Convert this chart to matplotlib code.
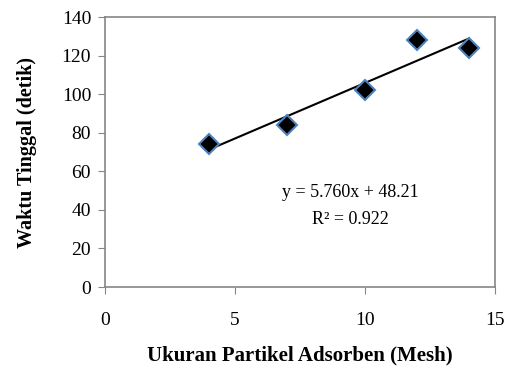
import matplotlib
matplotlib.use("Agg")
import matplotlib.pyplot as plt
import numpy as np

plt.rcParams['font.family'] = ['Liberation Serif', 'DejaVu Serif']

mesh = [4, 7, 10, 12, 14]
waktu = [74, 84, 102, 128, 124]
slope = 5.760
intercept = 48.21
eq_text = "y = 5.760x + 48.21"
r2_text = "R² = 0.922"
xticks = [0, 5, 10, 15]
yticks = [0, 20, 40, 60, 80, 100, 120, 140]

fig = plt.figure(figsize=(5.05, 3.77), dpi=100)
ax = fig.add_axes([105/505, 1-287/377, 390/505, 270/377])

xl = np.array([min(mesh), max(mesh)])
ax.plot(xl, slope*xl + intercept, color='black', lw=1.5, zorder=2)
ax.plot(mesh, waktu, linestyle='none', marker='D', markersize=10,
        markerfacecolor='black', markeredgecolor='#4F81BD', markeredgewidth=1.5, zorder=3)

ax.set_xlim(0, 15)
ax.set_ylim(0, 140)
ax.set_xticks(xticks)
ax.set_yticks(yticks)
for s in ax.spines.values():
    s.set_color('#868686')
    s.set_linewidth(1.2)
ax.tick_params(axis='both', direction='out', length=5, color='#868686', labelsize=14)
ax.tick_params(axis='x', pad=13)
ax.tick_params(axis='y', pad=5)

ax.text(9.45, 48.8, eq_text, ha='center', va='center', fontsize=13)
ax.text(9.45, 35.0, r2_text, ha='center', va='center', fontsize=13)

ax.set_xlabel('Ukuran Partikel Adsorben (Mesh)', fontsize=15, fontweight='bold', labelpad=12)
ax.set_ylabel('Waktu Tinggal (detik)', fontsize=14.5, fontweight='bold', labelpad=18)

fig.savefig('out.png', dpi=100)
